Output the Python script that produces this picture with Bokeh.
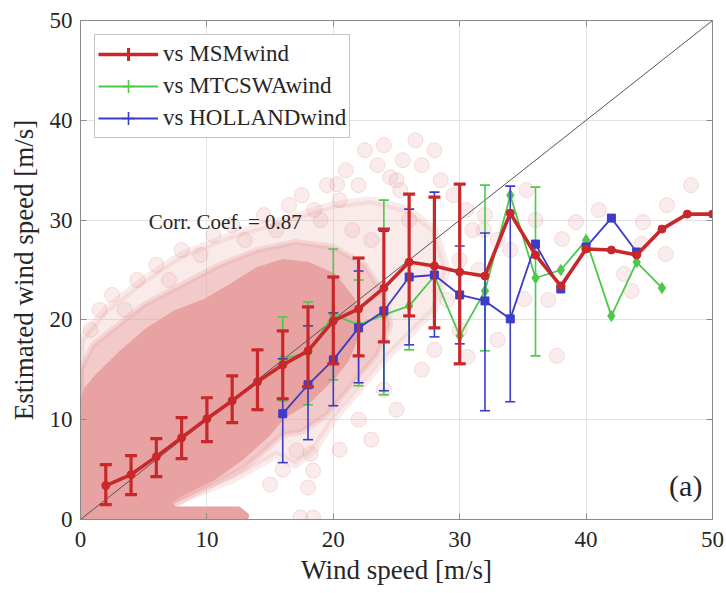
import math
from bokeh.plotting import figure
from bokeh.models import ColumnDataSource, Legend, LegendItem, Label, Range1d, FixedTicker, LinearAxis
from bokeh.embed import file_html
from bokeh.resources import INLINE

nan = float("nan")

# ---------------- data ----------------
tick_values = [0, 10, 20, 30, 40, 50]
diag = [0, 50]

wind_bins = [2, 4, 6, 8, 10, 12, 14, 16, 18, 20, 22, 24, 26, 28, 30,
             32, 34, 36, 38, 40, 42, 44, 46, 48, 50]
msm_mean = [3.4, 4.5, 6.3, 8.2, 10.1, 11.9, 13.8, 15.5, 16.9, 19.9, 21.1, 23.2, 25.8, 25.4, 24.8,
            24.4, 30.7, 26.5, 23.4, 27.1, 27.0, 26.5, 29.1, 30.6, 30.6]
msm_upper = [5.5, 6.4, 8.1, 10.2, 12.2, 14.4, 17.0, 18.9, 21.3, 24.3, 26.2, 29.1, 32.6, 32.3, 33.6,
             nan, nan, nan, nan, nan, nan, nan, nan, nan, nan]
msm_lower = [1.5, 2.5, 4.3, 6.1, 7.8, 9.7, 11.0, 12.1, 13.3, 15.6, 16.4, 17.8, 20.4, 19.2, 15.6,
             nan, nan, nan, nan, nan, nan, nan, nan, nan, nan]

mtc_x = [16, 18, 20, 22, 24, 26, 28, 30, 32, 34, 36, 38, 40, 42, 44, 46]
mtc_mean = [16.1, 16.7, 20.5, 19.5, 20.5, 21.4, 24.4, 18.4, 22.9, 32.5, 24.2, 25.0, 28.0, 20.4, 25.8, 23.2]
mtc_upper = [20.3, 21.8, 27.1, 24.0, 32.0, 25.8, nan, nan, 33.5, nan, 33.3, nan, nan, nan, nan, nan]
mtc_lower = [11.9, 11.5, 14.0, 13.4, 12.5, 17.0, nan, nan, 16.9, nan, 16.4, nan, nan, nan, nan, nan]

hol_x = [16, 18, 20, 22, 24, 26, 28, 30, 32, 34, 36, 38, 40, 42, 44]
hol_mean = [10.6, 13.5, 16.0, 19.2, 20.9, 24.3, 24.5, 22.5, 21.9, 20.1, 27.6, 23.1, 27.3, 30.2, 26.8]
hol_upper = [16.1, 19.4, 20.7, 24.9, 28.9, 31.1, 32.8, 27.4, 28.7, 33.4, nan, nan, nan, nan, nan]
hol_lower = [5.7, 8.0, 11.4, 13.7, 12.9, 17.5, 18.3, 17.6, 10.9, 11.8, nan, nan, nan, nan, nan]

# dense core of the scatter cloud (outline)
cloud_x = [0, 0, 0.5, 1.5, 3.2, 5.3, 7.4, 10, 12, 14, 16, 18, 20, 21.5, 22, 21, 20, 18, 16,
           14.8, 12.7, 10.5, 7.9, 6.8, 7.5, 12.5, 13.1, 12.8, 0]
cloud_y = [-1, 11, 13, 14.5, 16.6, 18.9, 20.6, 21.9, 23.4, 25, 25.8, 25.5, 24.4, 22, 19, 16, 14.4,
           11.9, 10.4, 8.6, 6.2, 4.2, 2.6, 1.6, 1.0, 1.0, 0.4, -1, -1]
# mid-density ring of the cloud (outline)
mid_x = [0, 0, 1, 3, 5, 8, 11, 14, 17, 20, 22.5, 24, 24.5, 23.5, 21.5, 19.5, 17.5, 16, 13, 10,
         7.5, 6.5]
mid_y = [0, 15, 17.5, 19.5, 21.5, 23.5, 25.5, 27, 27.8, 27.3, 25.5, 22.5, 19.5, 16.5, 13.5, 10.5,
         8.8, 8.5, 5.2, 3.2, 1.6, 0]
# faint outer halo of the cloud (outline)
halo_x = [0, 0, 2, 5, 8, 12, 16, 20, 23, 26, 28, 29, 28, 26, 24, 22, 20, 18.5, 17, 15.5, 12,
          9, 7, 6.5]
halo_y = [0, 18, 21, 24, 26.5, 28.5, 30, 31.5, 32, 31, 29, 25, 21, 18.5, 16, 13, 10, 7, 5.5,
          6.5, 4, 2.5, 1.3, 0]
# sparse points of the cloud
pts_x = [0.8, 1.5, 2.5, 3.5, 4.5, 6, 7, 8, 9.5, 10.5, 12, 13, 14.5, 15.5, 16.5, 17.5, 18.5, 19.5,
         20.5, 21, 22, 22.5, 23.5, 24, 25, 25.5, 26.5, 27, 28, 28.5, 29.5, 30.5, 31, 32, 33, 30,
         31.5, 29, 30, 28, 27, 24, 25, 22, 23, 20.5, 17.1, 18.2, 18.4, 18.0, 17.4, 18.4, 16, 15,
         48.3, 46.4, 44.5, 46.3, 43, 43.6, 39.2, 38.1, 37.7, 35.3, 31.9, 30.6, 35.1, 44.4, 41, 36,
         34, 33, 37, 20.3, 24.5, 25.3, 26, 23, 21.5, 19]
pts_y = [19, 21, 22.5, 21, 24, 25.5, 24, 27, 26.5, 28.5, 29.5, 28, 30.5, 29, 31.5, 32.5, 31, 33.5,
         32, 35, 33.5, 37, 35.5, 37.5, 34, 36, 38, 35.5, 37, 34, 32.5, 31, 29, 30.5, 28, 26,
         25, 22, 19, 17, 15, 13, 11, 10, 8, 7, 6.9, 6.6, 4.9, 3.2, 0.2, 0.2, 5, 3.5,
         33.5, 31.5, 29.8, 26.6, 24.6, 22.9, 29.8, 28.1, 16.4, 33, 29, 16.3, 22.1, 27.6, 31, 30,
         27, 18, 22, 33.6, 34.3, 33, 30, 28, 29, 30]

legend_labels = ["vs MSMwind", "vs MTCSWAwind", "vs HOLLANDwind"]
corr_text = "Corr. Coef. = 0.87"
panel_text = "(a)"

# ---------------- styles ----------------
FONT = "Liberation Serif"
TXT = "#262626"
RED = "#C8282A"
GREEN = "#4CC84C"
BLUE = "#3C3CC8"
PINK = "#E8A2A2"
AXC = "#8a8a8a"


def bars(xs, lo, hi):
    keep = [i for i in range(len(xs)) if not math.isnan(hi[i])]
    return ColumnDataSource(dict(x=[xs[i] for i in keep],
                                 lo=[lo[i] for i in keep],
                                 hi=[hi[i] for i in keep]))


p = figure(width=726, height=593, x_range=Range1d(0, 50), y_range=Range1d(0, 50),
           output_backend="svg", toolbar_location=None,
           min_border_left=80, min_border_right=14, min_border_top=20, min_border_bottom=74,
           background_fill_color="white", border_fill_color="white")

# cloud
p.patch(halo_x, halo_y, fill_color=PINK, fill_alpha=0.22, line_color=PINK, line_alpha=0.22,
        line_width=8, line_join="round")
p.patch(mid_x, mid_y, fill_color=PINK, fill_alpha=0.45, line_color=PINK, line_alpha=0.3,
        line_width=6, line_join="round")
p.patch(cloud_x, cloud_y, fill_color=PINK, fill_alpha=1.0, line_color=PINK, line_width=6,
        line_join="round")
p.scatter(pts_x, pts_y, marker="circle", size=15, fill_color=PINK, fill_alpha=0.2,
          line_color=PINK, line_alpha=0.35)

# 1:1 line
p.line(diag, diag, line_color="#555555", line_width=1)

# MTCSWA (green)
gsrc = bars(mtc_x, mtc_lower, mtc_upper)
p.segment(x0="x", y0="lo", x1="x", y1="hi", source=gsrc, line_color=GREEN, line_width=1.6)
p.scatter("x", "hi", source=gsrc, marker="dash", size=10, line_color=GREEN, line_width=1.6)
p.scatter("x", "lo", source=gsrc, marker="dash", size=10, line_color=GREEN, line_width=1.6)
g_line = p.line(mtc_x, mtc_mean, line_color=GREEN, line_width=1.8)
p.scatter(mtc_x, mtc_mean, marker="diamond", size=11, fill_color=GREEN, line_color=GREEN)

# HOLLAND (blue)
bsrc = bars(hol_x, hol_lower, hol_upper)
p.segment(x0="x", y0="lo", x1="x", y1="hi", source=bsrc, line_color=BLUE, line_width=1.6)
p.scatter("x", "hi", source=bsrc, marker="dash", size=10, line_color=BLUE, line_width=1.6)
p.scatter("x", "lo", source=bsrc, marker="dash", size=10, line_color=BLUE, line_width=1.6)
b_line = p.line(hol_x, hol_mean, line_color=BLUE, line_width=1.8)
p.scatter(hol_x, hol_mean, marker="square", size=8, fill_color=BLUE, line_color=BLUE)

# MSM (red)
rsrc = bars(wind_bins, msm_lower, msm_upper)
p.segment(x0="x", y0="lo", x1="x", y1="hi", source=rsrc, line_color=RED, line_width=3.2)
p.scatter("x", "hi", source=rsrc, marker="dash", size=12, line_color=RED, line_width=3.2)
p.scatter("x", "lo", source=rsrc, marker="dash", size=12, line_color=RED, line_width=3.2)
r_line = p.line(wind_bins, msm_mean, line_color=RED, line_width=3.6)
p.scatter(wind_bins, msm_mean, marker="circle", size=8, fill_color=RED, line_color=RED)


# legend glyph helpers: error-bar strokes, tiny in the plot (legend sizes them itself)
def legend_cross(xs, ys, color, width):
    src = ColumnDataSource(dict(x=xs[:1], y=ys[:1]))
    return p.scatter("x", "y", source=src, marker="cross", size=0.01,
                     line_color=color, line_width=width)


r_v = legend_cross(wind_bins, msm_mean, RED, 3)
g_v = legend_cross(mtc_x, mtc_mean, GREEN, 1.6)
b_v = legend_cross(hol_x, hol_mean, BLUE, 1.6)

legend = Legend(items=[LegendItem(label=legend_labels[0], renderers=[r_line, r_v]),
                       LegendItem(label=legend_labels[1], renderers=[g_line, g_v]),
                       LegendItem(label=legend_labels[2], renderers=[b_line, b_v])],
                location="top_left", margin=14, padding=3, spacing=-2,
                glyph_width=60, glyph_height=32, label_height=32, label_standoff=5,
                label_text_font=FONT, label_text_font_size="23px", label_text_color=TXT,
                border_line_color="#8c8c8c", border_line_width=1,
                background_fill_color="white", background_fill_alpha=1.0)
p.add_layout(legend)

p.add_layout(Label(x=5.4, y=29.8, text=corr_text, text_font=FONT, text_font_size="21px",
                   text_color=TXT, text_baseline="middle", text_align="left"))
p.add_layout(Label(x=49.2, y=3.4, text=panel_text, text_font=FONT, text_font_size="30px",
                   text_color=TXT, text_baseline="middle", text_align="right"))

# axes
for ax in (p.xaxis[0], p.yaxis[0]):
    ax.ticker = FixedTicker(ticks=tick_values)
    ax.major_label_text_font = FONT
    ax.major_label_text_font_size = "23px"
    ax.major_label_text_color = TXT
    ax.axis_label_text_font = FONT
    ax.axis_label_text_font_size = "27px"
    ax.axis_label_text_font_style = "normal"
    ax.axis_label_text_color = TXT
    ax.axis_line_color = AXC
    ax.major_tick_line_color = AXC
    ax.major_tick_in = 6
    ax.major_tick_out = 0
    ax.minor_tick_line_color = None
p.xaxis[0].axis_label = "Wind speed [m/s]"
p.yaxis[0].axis_label = "Estimated wind speed [m/s]"
p.xaxis[0].major_label_standoff = 12
p.xaxis[0].axis_label_standoff = 5
p.yaxis[0].major_label_standoff = 8
p.yaxis[0].axis_label_standoff = 8

# box ticks on top and right (no labels)
for side in ("above", "right"):
    ax = LinearAxis(ticker=FixedTicker(ticks=tick_values),
                    major_label_overrides={t: "" for t in tick_values},
                    major_label_standoff=0, axis_line_color=AXC, major_tick_line_color=AXC,
                    major_tick_in=6, major_tick_out=0, minor_tick_line_color=None)
    p.add_layout(ax, side)

p.xgrid.ticker = FixedTicker(ticks=tick_values)
p.ygrid.ticker = FixedTicker(ticks=tick_values)
p.grid.grid_line_color = "#e3e3e3"
p.grid.grid_line_width = 1
p.outline_line_color = AXC

open("out.html", "w").write(file_html(p, INLINE))
